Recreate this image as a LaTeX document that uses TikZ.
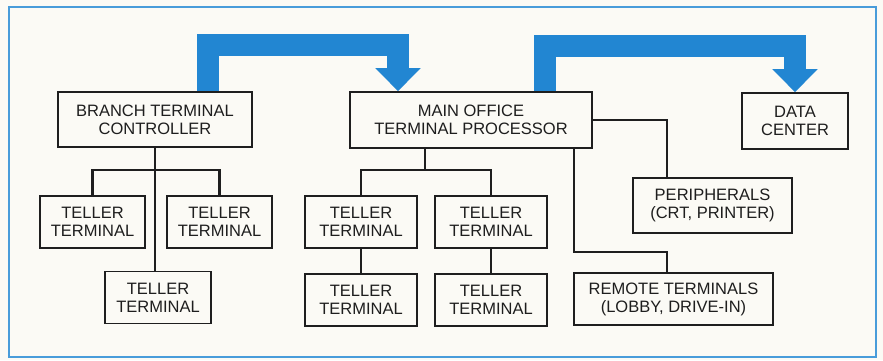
\documentclass[tikz,border=0pt]{standalone}
\usepackage{fontspec}
\setmainfont{Liberation Sans}
\usepackage{tikz}
\usetikzlibrary{arrows.meta,positioning,calc}
\definecolor{busblue}{RGB}{34,134,210}
\definecolor{frameblue}{RGB}{72,156,218}
\definecolor{paper}{RGB}{251,250,245}
\definecolor{ink}{RGB}{30,30,30}

\begin{document}
\begin{tikzpicture}[x=1pt,y=-1pt,
  font=\fontsize{16.5}{18}\selectfont, text=ink,
  box/.style={draw=ink,line width=1.7pt,minimum height=52pt,align=center,inner sep=2pt},
  link/.style={draw=ink,line width=2.6pt},
  bus/.style={draw=busblue,line width=22pt,line join=miter,-{Triangle[width=44pt,length=23pt]}}]
\useasboundingbox[fill=paper](0,0) rectangle (883,360);
\draw[frameblue,line width=2.4pt](9,7) rectangle (876,357);
\node[box,minimum width=194pt,minimum height=55pt](branch) at (155,119.5){BRANCH TERMINAL\\CONTROLLER};
\node[box,minimum width=242pt,minimum height=56pt](main) at (471,120){MAIN OFFICE\\TERMINAL PROCESSOR};
\node[box,minimum width=106pt,minimum height=56pt](data) at (795,121){DATA\\CENTER};
\node[box,minimum width=105pt](ta) at (92.5,222){TELLER\\TERMINAL};
\node[box,minimum width=105pt](tb) at (219.5,222){TELLER\\TERMINAL};
\node[box,minimum width=106pt](tc) at (158,297.5){TELLER\\TERMINAL};
\node[box,minimum width=112pt](tm1) at (361,222){TELLER\\TERMINAL};
\node[box,minimum width=112pt](tm2) at (491,222){TELLER\\TERMINAL};
\node[box,minimum width=112pt,below=24pt of tm1](tm3){TELLER\\TERMINAL};
\node[box,minimum width=112pt,below=24pt of tm2](tm4){TELLER\\TERMINAL};
\node[box,minimum width=159pt,minimum height=55pt](periph) at (712.5,205.5){PERIPHERALS\\(CRT, PRINTER)};
\node[box,minimum width=199pt](remote) at (673.5,299){REMOTE TERMINALS\\(LOBBY, DRIVE-IN)};
% junction points
\coordinate(bj) at (155,170);
\coordinate(mj) at (425,170);
\coordinate(rd) at (574,252);
\coordinate(rj) at (667,252);
% branch tree
\draw[link](branch.south)--(branch.south |- tc.north);
\draw[link](ta.north)|-(bj)-|(tb.north);
% main office tree
\draw[link](main.south -| mj)--(mj);
\draw[link](tm1.north)|-(mj)-|(tm2.north);
\draw[link](tm1)--(tm3);
\draw[link](tm2)--(tm4);
\draw[link](main.south -| rd)--(rd)--(rj)--(remote.north -| rj);
\draw[link](main.east)-|(periph.north -| rj);
% data paths
\draw[bus]([xshift=53pt]branch.north)--++(0,-46)-|([xshift=-73pt]main.north);
\draw[bus]([xshift=73.5pt]main.north)--++(0,-45)-|(data.north);
\end{tikzpicture}
\end{document}
